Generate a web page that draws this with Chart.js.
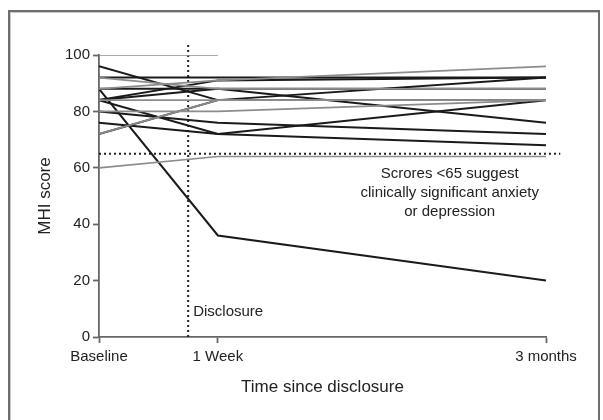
<!DOCTYPE html>
<html>
<head>
<meta charset="utf-8">
<script src="https://cdn.jsdelivr.net/npm/chart.js@4"></script>
<style>
  html, body { margin: 0; padding: 0; background: #fff; }
  #wrap { position: relative; width: 603px; height: 420px; }
  #frame { position: absolute; left: 8px; top: 10px; width: 588px; height: 420px;
           border: 2px solid #6e6e6e; border-bottom: none; box-shadow: inset 1px 1px 0 #c8c8c8; }
  canvas { position: absolute; left: 0; top: 0; }
</style>
</head>
<body>
<div id="wrap">
  <div id="frame"></div>
  <canvas id="chart" width="603" height="420"></canvas>
</div>
<script>
// time points (x position in weeks-ish units)
const timeLabels = ['Baseline', '1 Week', '3 months']
const timeX = [0, 1, 3.76]

// MHI scores per subject at [Baseline, 1 Week, 3 months]
const darkSubjects = [
    [96, 84, 84],
    [88, 36, 20],
    [88, 88, 88],
    [92, 92, 92],
    [84, 72, 84],
    [80, 76, 72],
    [76, 72, 68],
    [84, 88, 76],
    [84, 91, 92],
    [72, 84, 92]
]
const greySubjects = [
    [100, 100, null],
    [60, 64, 64],
    [84, 84, 84],
    [80, 80, 84],
    [88, 91, 96],
    [92, 88, 88],
    [72, 84, 84]
]

// reference lines
const disclosureAt = 0.75
const disclosureTop = 104
const threshold = 65
const thresholdEnd = 3.88
const noteLines = ['Scrores <65 suggest', 'clinically significant anxiety', 'or depression']

const FONT = '"Liberation Sans", Arial, sans-serif'

const toPoints = vals => vals.map((v, i) => ({ x: timeX[i], y: v }))

const datasets = []
greySubjects.forEach(s => datasets.push({
    data: toPoints(s), borderColor: '#8c8c8c', borderWidth: 1.7
}))
darkSubjects.forEach(s => datasets.push({
    data: toPoints(s), borderColor: '#1a1a1a', borderWidth: 2
}))
datasets.push({
    data: [{ x: 0, y: threshold }, { x: thresholdEnd, y: threshold }],
    borderColor: '#222', borderWidth: 2, borderDash: [2, 3], clip: false
})
datasets.push({
    data: [{ x: disclosureAt, y: 0 }, { x: disclosureAt, y: disclosureTop }],
    borderColor: '#222', borderWidth: 2, borderDash: [2, 3], clip: false
})

// text notes placed through the scales
const notes = {
    id: 'notes',
    afterDraw(chart) {
        const { ctx, scales: { x, y } } = chart
        ctx.save()
        ctx.fillStyle = '#222'
        ctx.font = '15px ' + FONT
        ctx.textBaseline = 'middle'
        ctx.textAlign = 'left'
        ctx.fillText('Disclosure', x.getPixelForValue(disclosureAt) + 5, y.getPixelForValue(9))
        ctx.textAlign = 'center'
        const cx = x.getPixelForValue(2.95)
        noteLines.forEach((t, i) => {
            ctx.fillText(t, cx, y.getPixelForValue(threshold) + 20 + i * 19)
        })
        ctx.restore()
    }
}

new Chart(document.getElementById('chart'), {
    type: 'line',
    data: { datasets },
    options: {
        responsive: false,
        animation: false,
        events: [],
        layout: { padding: { left: 0, top: 55, right: 57, bottom: 0 } },
        elements: { point: { radius: 0 }, line: { tension: 0 } },
        plugins: { legend: { display: false }, tooltip: { enabled: false } },
        scales: {
            x: {
                type: 'linear', min: 0, max: timeX[2],
                afterFit: s => { s.height = 83 },
                afterBuildTicks: s => { s.ticks = timeX.map(v => ({ value: v })) },
                ticks: {
                    callback: (v) => timeLabels[timeX.indexOf(v)],
                    color: '#222', font: { family: FONT, size: 15 }, padding: 5,
                    maxRotation: 0, autoSkip: false
                },
                grid: { drawOnChartArea: false, tickLength: 6, color: '#666', tickWidth: 1.8 },
                border: { color: '#666', width: 1.8 },
                title: {
                    display: true, text: 'Time since disclosure', color: '#222',
                    font: { family: FONT, size: 17 }, padding: { top: 0, bottom: 22 }
                }
            },
            y: {
                min: 0, max: 100,
                afterFit: s => { s.width = 99 },
                ticks: {
                    stepSize: 20, color: '#222', font: { family: FONT, size: 15 }, padding: 3
                },
                grid: { drawOnChartArea: false, tickLength: 6, color: '#666', tickWidth: 1.8 },
                border: { color: '#666', width: 1.8 },
                title: {
                    display: true, text: 'MHI score', color: '#222',
                    font: { family: FONT, size: 17 }, padding: { top: 35, bottom: 0 }
                }
            }
        }
    },
    plugins: [notes]
})
</script>
</body>
</html>
